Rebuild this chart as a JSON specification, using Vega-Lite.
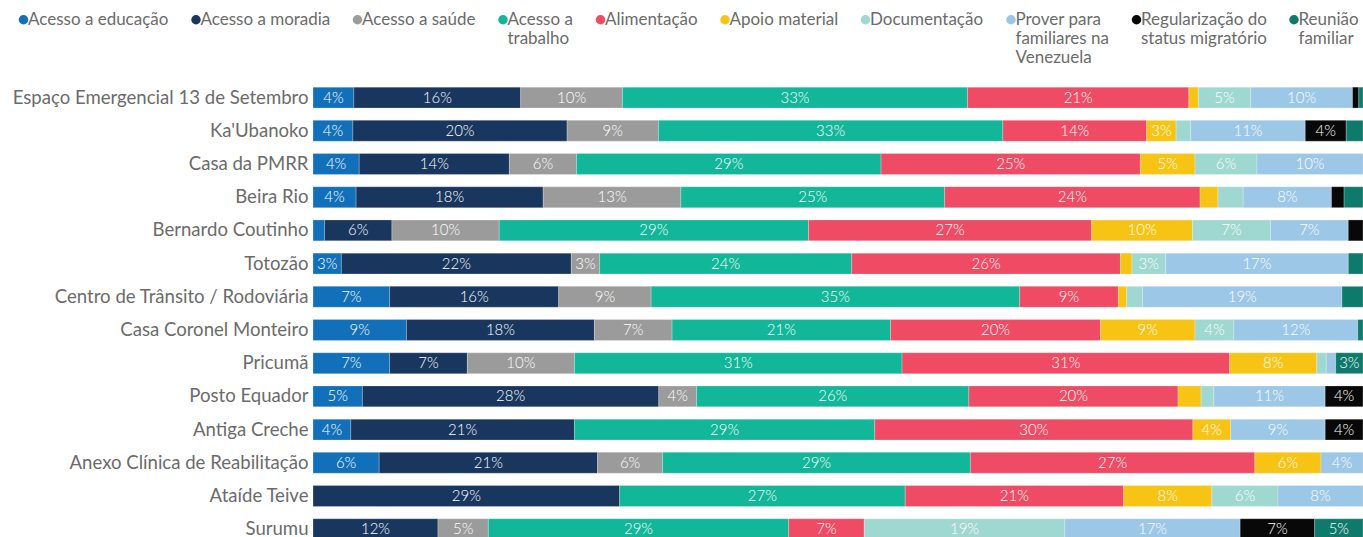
{
  "$schema": "https://vega.github.io/schema/vega-lite/v6.json",
  "autosize": "none",
  "width": 1050,
  "height": {"step": 33.2},
  "padding": {"left": 313, "top": 81, "right": 0, "bottom": 0},
  "background": "white",
  "config": {
    "font": "Lato",
    "view": {"stroke": null}
  },
  "data": {
    "values": [
      {"local": "Espaço Emergencial 13 de Setembro", "motivo": "Acesso a educação", "v": 0.039},
      {"local": "Espaço Emergencial 13 de Setembro", "motivo": "Acesso a moradia", "v": 0.159},
      {"local": "Espaço Emergencial 13 de Setembro", "motivo": "Acesso a saúde", "v": 0.097},
      {"local": "Espaço Emergencial 13 de Setembro", "motivo": "Acesso a trabalho", "v": 0.329},
      {"local": "Espaço Emergencial 13 de Setembro", "motivo": "Alimentação", "v": 0.211},
      {"local": "Espaço Emergencial 13 de Setembro", "motivo": "Apoio material", "v": 0.009},
      {"local": "Espaço Emergencial 13 de Setembro", "motivo": "Documentação", "v": 0.050},
      {"local": "Espaço Emergencial 13 de Setembro", "motivo": "Prover para familiares na Venezuela", "v": 0.097},
      {"local": "Espaço Emergencial 13 de Setembro", "motivo": "Regularização do status migratório", "v": 0.006},
      {"local": "Espaço Emergencial 13 de Setembro", "motivo": "Reunião familiar", "v": 0.004},

      {"local": "Ka'Ubanoko", "motivo": "Acesso a educação", "v": 0.038},
      {"local": "Ka'Ubanoko", "motivo": "Acesso a moradia", "v": 0.204},
      {"local": "Ka'Ubanoko", "motivo": "Acesso a saúde", "v": 0.087},
      {"local": "Ka'Ubanoko", "motivo": "Acesso a trabalho", "v": 0.328},
      {"local": "Ka'Ubanoko", "motivo": "Alimentação", "v": 0.137},
      {"local": "Ka'Ubanoko", "motivo": "Apoio material", "v": 0.028},
      {"local": "Ka'Ubanoko", "motivo": "Documentação", "v": 0.014},
      {"local": "Ka'Ubanoko", "motivo": "Prover para familiares na Venezuela", "v": 0.109},
      {"local": "Ka'Ubanoko", "motivo": "Regularização do status migratório", "v": 0.039},
      {"local": "Ka'Ubanoko", "motivo": "Reunião familiar", "v": 0.016},

      {"local": "Casa da PMRR", "motivo": "Acesso a educação", "v": 0.044},
      {"local": "Casa da PMRR", "motivo": "Acesso a moradia", "v": 0.143},
      {"local": "Casa da PMRR", "motivo": "Acesso a saúde", "v": 0.064},
      {"local": "Casa da PMRR", "motivo": "Acesso a trabalho", "v": 0.290},
      {"local": "Casa da PMRR", "motivo": "Alimentação", "v": 0.247},
      {"local": "Casa da PMRR", "motivo": "Apoio material", "v": 0.052},
      {"local": "Casa da PMRR", "motivo": "Documentação", "v": 0.059},
      {"local": "Casa da PMRR", "motivo": "Prover para familiares na Venezuela", "v": 0.101},

      {"local": "Beira Rio", "motivo": "Acesso a educação", "v": 0.041},
      {"local": "Beira Rio", "motivo": "Acesso a moradia", "v": 0.178},
      {"local": "Beira Rio", "motivo": "Acesso a saúde", "v": 0.131},
      {"local": "Beira Rio", "motivo": "Acesso a trabalho", "v": 0.251},
      {"local": "Beira Rio", "motivo": "Alimentação", "v": 0.243},
      {"local": "Beira Rio", "motivo": "Apoio material", "v": 0.017},
      {"local": "Beira Rio", "motivo": "Documentação", "v": 0.024},
      {"local": "Beira Rio", "motivo": "Prover para familiares na Venezuela", "v": 0.084},
      {"local": "Beira Rio", "motivo": "Regularização do status migratório", "v": 0.012},
      {"local": "Beira Rio", "motivo": "Reunião familiar", "v": 0.018},

      {"local": "Bernardo Coutinho", "motivo": "Acesso a educação", "v": 0.011},
      {"local": "Bernardo Coutinho", "motivo": "Acesso a moradia", "v": 0.064},
      {"local": "Bernardo Coutinho", "motivo": "Acesso a saúde", "v": 0.102},
      {"local": "Bernardo Coutinho", "motivo": "Acesso a trabalho", "v": 0.294},
      {"local": "Bernardo Coutinho", "motivo": "Alimentação", "v": 0.269},
      {"local": "Bernardo Coutinho", "motivo": "Apoio material", "v": 0.096},
      {"local": "Bernardo Coutinho", "motivo": "Documentação", "v": 0.074},
      {"local": "Bernardo Coutinho", "motivo": "Prover para familiares na Venezuela", "v": 0.074},
      {"local": "Bernardo Coutinho", "motivo": "Regularização do status migratório", "v": 0.014},

      {"local": "Totozão", "motivo": "Acesso a educação", "v": 0.027},
      {"local": "Totozão", "motivo": "Acesso a moradia", "v": 0.219},
      {"local": "Totozão", "motivo": "Acesso a saúde", "v": 0.027},
      {"local": "Totozão", "motivo": "Acesso a trabalho", "v": 0.240},
      {"local": "Totozão", "motivo": "Alimentação", "v": 0.256},
      {"local": "Totozão", "motivo": "Apoio material", "v": 0.011},
      {"local": "Totozão", "motivo": "Documentação", "v": 0.032},
      {"local": "Totozão", "motivo": "Prover para familiares na Venezuela", "v": 0.174},
      {"local": "Totozão", "motivo": "Reunião familiar", "v": 0.014},

      {"local": "Centro de Trânsito / Rodoviária", "motivo": "Acesso a educação", "v": 0.073},
      {"local": "Centro de Trânsito / Rodoviária", "motivo": "Acesso a moradia", "v": 0.161},
      {"local": "Centro de Trânsito / Rodoviária", "motivo": "Acesso a saúde", "v": 0.088},
      {"local": "Centro de Trânsito / Rodoviária", "motivo": "Acesso a trabalho", "v": 0.351},
      {"local": "Centro de Trânsito / Rodoviária", "motivo": "Alimentação", "v": 0.094},
      {"local": "Centro de Trânsito / Rodoviária", "motivo": "Apoio material", "v": 0.008},
      {"local": "Centro de Trânsito / Rodoviária", "motivo": "Documentação", "v": 0.015},
      {"local": "Centro de Trânsito / Rodoviária", "motivo": "Prover para familiares na Venezuela", "v": 0.190},
      {"local": "Centro de Trânsito / Rodoviária", "motivo": "Reunião familiar", "v": 0.020},

      {"local": "Casa Coronel Monteiro", "motivo": "Acesso a educação", "v": 0.089},
      {"local": "Casa Coronel Monteiro", "motivo": "Acesso a moradia", "v": 0.179},
      {"local": "Casa Coronel Monteiro", "motivo": "Acesso a saúde", "v": 0.074},
      {"local": "Casa Coronel Monteiro", "motivo": "Acesso a trabalho", "v": 0.208},
      {"local": "Casa Coronel Monteiro", "motivo": "Alimentação", "v": 0.200},
      {"local": "Casa Coronel Monteiro", "motivo": "Apoio material", "v": 0.090},
      {"local": "Casa Coronel Monteiro", "motivo": "Documentação", "v": 0.037},
      {"local": "Casa Coronel Monteiro", "motivo": "Prover para familiares na Venezuela", "v": 0.118},
      {"local": "Casa Coronel Monteiro", "motivo": "Reunião familiar", "v": 0.005},

      {"local": "Pricumã", "motivo": "Acesso a educação", "v": 0.073},
      {"local": "Pricumã", "motivo": "Acesso a moradia", "v": 0.074},
      {"local": "Pricumã", "motivo": "Acesso a saúde", "v": 0.102},
      {"local": "Pricumã", "motivo": "Acesso a trabalho", "v": 0.312},
      {"local": "Pricumã", "motivo": "Alimentação", "v": 0.312},
      {"local": "Pricumã", "motivo": "Apoio material", "v": 0.083},
      {"local": "Pricumã", "motivo": "Documentação", "v": 0.009},
      {"local": "Pricumã", "motivo": "Prover para familiares na Venezuela", "v": 0.009},
      {"local": "Pricumã", "motivo": "Reunião familiar", "v": 0.026},

      {"local": "Posto Equador", "motivo": "Acesso a educação", "v": 0.047},
      {"local": "Posto Equador", "motivo": "Acesso a moradia", "v": 0.282},
      {"local": "Posto Equador", "motivo": "Acesso a saúde", "v": 0.036},
      {"local": "Posto Equador", "motivo": "Acesso a trabalho", "v": 0.259},
      {"local": "Posto Equador", "motivo": "Alimentação", "v": 0.199},
      {"local": "Posto Equador", "motivo": "Apoio material", "v": 0.022},
      {"local": "Posto Equador", "motivo": "Documentação", "v": 0.012},
      {"local": "Posto Equador", "motivo": "Prover para familiares na Venezuela", "v": 0.106},
      {"local": "Posto Equador", "motivo": "Regularização do status migratório", "v": 0.036},

      {"local": "Antiga Creche", "motivo": "Acesso a educação", "v": 0.036},
      {"local": "Antiga Creche", "motivo": "Acesso a moradia", "v": 0.213},
      {"local": "Antiga Creche", "motivo": "Acesso a trabalho", "v": 0.286},
      {"local": "Antiga Creche", "motivo": "Alimentação", "v": 0.303},
      {"local": "Antiga Creche", "motivo": "Apoio material", "v": 0.036},
      {"local": "Antiga Creche", "motivo": "Prover para familiares na Venezuela", "v": 0.090},
      {"local": "Antiga Creche", "motivo": "Regularização do status migratório", "v": 0.036},

      {"local": "Anexo Clínica de Reabilitação", "motivo": "Acesso a educação", "v": 0.063},
      {"local": "Anexo Clínica de Reabilitação", "motivo": "Acesso a moradia", "v": 0.208},
      {"local": "Anexo Clínica de Reabilitação", "motivo": "Acesso a saúde", "v": 0.062},
      {"local": "Anexo Clínica de Reabilitação", "motivo": "Acesso a trabalho", "v": 0.293},
      {"local": "Anexo Clínica de Reabilitação", "motivo": "Alimentação", "v": 0.271},
      {"local": "Anexo Clínica de Reabilitação", "motivo": "Apoio material", "v": 0.063},
      {"local": "Anexo Clínica de Reabilitação", "motivo": "Prover para familiares na Venezuela", "v": 0.040},

      {"local": "Ataíde Teive", "motivo": "Acesso a moradia", "v": 0.292},
      {"local": "Ataíde Teive", "motivo": "Acesso a trabalho", "v": 0.272},
      {"local": "Ataíde Teive", "motivo": "Alimentação", "v": 0.208},
      {"local": "Ataíde Teive", "motivo": "Apoio material", "v": 0.084},
      {"local": "Ataíde Teive", "motivo": "Documentação", "v": 0.063},
      {"local": "Ataíde Teive", "motivo": "Prover para familiares na Venezuela", "v": 0.081},

      {"local": "Surumu", "motivo": "Acesso a moradia", "v": 0.119},
      {"local": "Surumu", "motivo": "Acesso a saúde", "v": 0.048},
      {"local": "Surumu", "motivo": "Acesso a trabalho", "v": 0.286},
      {"local": "Surumu", "motivo": "Alimentação", "v": 0.072},
      {"local": "Surumu", "motivo": "Documentação", "v": 0.191},
      {"local": "Surumu", "motivo": "Prover para familiares na Venezuela", "v": 0.167},
      {"local": "Surumu", "motivo": "Regularização do status migratório", "v": 0.071},
      {"local": "Surumu", "motivo": "Reunião familiar", "v": 0.046}
    ]
  },
  "encoding": {
    "y": {
      "field": "local",
      "type": "nominal",
      "sort": null,
      "scale": {"paddingInner": 0.37, "paddingOuter": 0.185},
      "axis": {
        "title": null,
        "domain": false,
        "ticks": false,
        "labelFontSize": 18.6,
        "labelColor": "#6b6b6b",
        "labelPadding": 5,
        "labelLimit": 400
      }
    },
    "x": {
      "field": "v",
      "type": "quantitative",
      "stack": "normalize",
      "scale": {"domain": [0, 1], "nice": false},
      "axis": null
    },
    "order": {"field": "motivo", "type": "nominal", "sort": "ascending"}
  },
  "layer": [
    {
      "mark": {"type": "bar", "stroke": "white", "strokeWidth": 0.4, "strokeOpacity": 0.6},
      "encoding": {
        "color": {
          "field": "motivo",
          "type": "nominal",
          "scale": {
            "domain": ["Acesso a educação", "Acesso a moradia", "Acesso a saúde", "Acesso a trabalho", "Alimentação", "Apoio material", "Documentação", "Prover para familiares na Venezuela", "Regularização do status migratório", "Reunião familiar"],
            "range": ["#1170b9", "#19365f", "#9b9b9b", "#12b698", "#ef4b64", "#f7c416", "#9fd8d0", "#9cc7e6", "#080808", "#0e7a6b"]
          },
          "legend": {
            "title": null,
            "orient": "none",
            "direction": "horizontal",
            "legendX": -298,
            "legendY": -70,
            "padding": 0,
            "symbolType": "circle",
            "symbolSize": 90,
            "symbolStrokeWidth": 0,
            "symbolOffset": 0,
            "labelOffset": -4,
            "labelFontSize": 17,
            "labelColor": "#6b6b6b",
            "labelBaseline": "middle",
            "labelLimit": 300,
            "columnPadding": 18.5,
            "labelExpr": "datum.label == 'Acesso a trabalho' ? ['Acesso a', 'trabalho', ''] : datum.label == 'Prover para familiares na Venezuela' ? ['Prover para', 'familiares na', 'Venezuela'] : datum.label == 'Regularização do status migratório' ? ['Regularização do', 'status migratório', ''] : datum.label == 'Reunião familiar' ? ['Reunião', 'familiar', ''] : [datum.label, '', '']"
          }
        }
      }
    },
    {
      "mark": {"type": "text", "color": "white", "fontSize": 15, "fontWeight": 300, "baseline": "middle", "align": "center"},
      "encoding": {
        "x": {"field": "v", "type": "quantitative", "stack": "normalize", "bandPosition": 0.5},
        "detail": {"field": "motivo", "type": "nominal"},
        "text": {
          "condition": {"test": "datum.v >= 0.025", "field": "v", "type": "quantitative", "format": ".0%"},
          "value": ""
        }
      }
    }
  ]
}
